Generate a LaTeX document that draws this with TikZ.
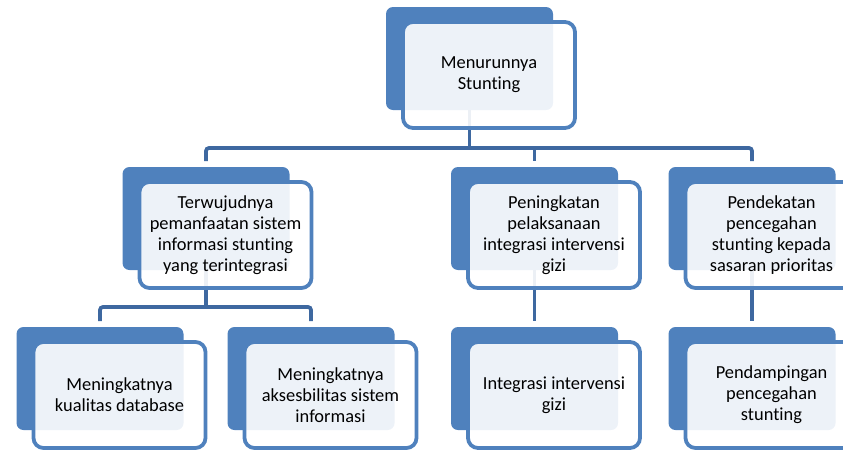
\documentclass[tikz,border=0pt]{standalone}
\usepackage{fontspec}
\setmainfont{Carlito}[Ligatures={NoCommon}]
\usetikzlibrary{calc}
\definecolor{acc}{RGB}{79,129,189}
\definecolor{conncol}{RGB}{62,104,160}
\pgfdeclarelayer{bg}
\pgfsetlayers{bg,main}
\tikzset{
  backbox/.style={draw=none, fill=acc, rounded corners=7pt, minimum width=167pt, minimum height=103pt, inner sep=0pt, outer sep=0pt},
  frontbox/.style={draw=acc, line width=3.75pt, fill=white, fill opacity=0.9, text opacity=1, draw opacity=1, rounded corners=10pt, minimum width=172pt, minimum height=106pt, inner sep=0pt, outer sep=0pt, align=center, font=\fontsize{18.4}{21}\selectfont, text=black},
  conn/.style={draw=conncol, line width=3.75pt, rounded corners=3pt}
}
\newcommand{\hunit}[4]{%
  \node[backbox] (#1) at (#2,#3) {};
  \node[frontbox] (#1f) at ($(#1)+(19.5,16.5)$) {#4};
}
\begin{document}
\begin{tikzpicture}[x=1pt,y=-1pt]
\useasboundingbox (0,0) rectangle (843,453);
\clip (0,0) rectangle (843,453);
\hunit{t}{469.5}{58.5}{Menurunnya\\Stunting}
\hunit{m1}{206}{218.5}{Terwujudnya\\pemanfaatan sistem\\informasi stunting\\yang terintegrasi}
\hunit{m2}{534.5}{218.5}{Peningkatan\\pelaksanaan\\integrasi intervensi\\gizi}
\hunit{m3}{752}{218.5}{Pendekatan\\pencegahan\\stunting kepada\\sasaran prioritas}
\hunit{l1}{100}{378.5}{Meningkatnya\\kualitas database}
\hunit{l2}{311}{378.5}{Meningkatnya\\aksesbilitas sistem\\informasi}
\hunit{l3}{534.5}{378.5}{Integrasi intervensi\\gizi}
\hunit{l4}{752}{378.5}{Pendampingan\\pencegahan\\stunting}
\begin{pgfonlayer}{bg}
  \coordinate (j1) at (469.5,148);
  \coordinate (j2) at (206,307);
  \draw[conn] (t.south) -- (j1);
  \draw[conn] ([yshift=6pt]m1.north) |- (j1) -| ([yshift=6pt]m3.north);
  \draw[conn] (j1 -| m2.north) -- ([yshift=6pt]m2.north);
  \draw[conn] (m1.south) -- (j2);
  \draw[conn] ([yshift=6pt]l1.north) |- (j2) -| ([yshift=6pt]l2.north);
  \draw[conn] (m2.south) -- ([yshift=6pt]l3.north);
  \draw[conn] (m3.south) -- ([yshift=6pt]l4.north);
\end{pgfonlayer}
\end{tikzpicture}
\end{document}
